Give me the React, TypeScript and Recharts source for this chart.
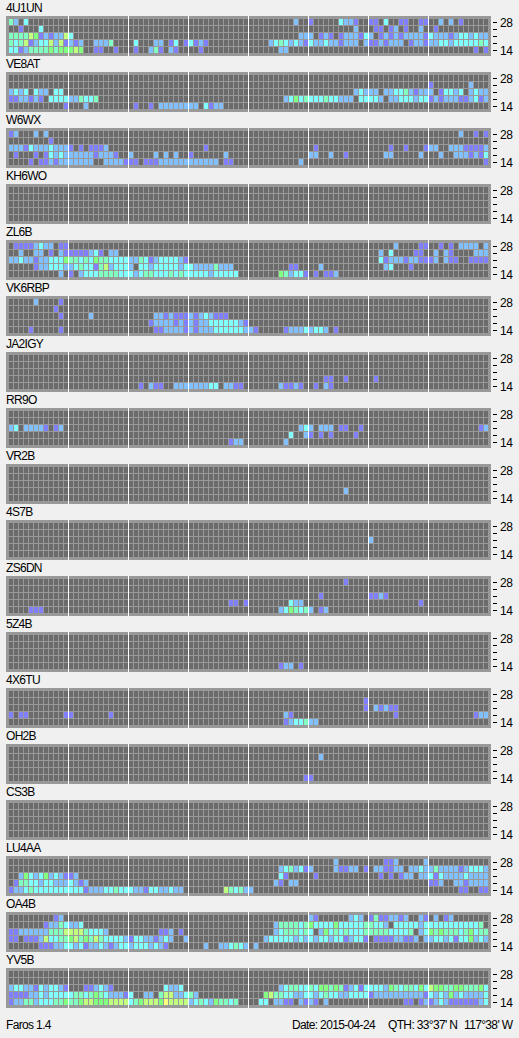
import {ReferenceLine, Scatter, ScatterChart, XAxis, YAxis} from 'recharts'

// each row is 96 quarter hours, written in 3 hour blocks. a block shorter than 12 is padded with '.'
const u4 = [
	'42.3 . . . .........2.. 1.....3221.. 11.3..11..11 ..2.2.1',
	'..1...3 . . . . .........2.. .11.12.1..2. .1',
	'444465121226 3 . . ..........22 2.121.122213 2.1212122221 322212332322',
	'434612336261 212..2224 .3...22.13.1 3121 ....23432321 3223221222.2 1121222.1221 223323333343',
	'331244445455 565..11..1 .1..241.21 ..1 ......22 . . .........1.1',
]
const ve8at = [
	'',
	'. . . . . . . 1.......2',
	'2323.322.33 . . . . .........232 22.223342122 2.13323.2322',
	'1122121.3333 224334 . . .......23534 333433222.33 332.22333233 121222112312',
	'...........1 ...2 .1..1.222222 22.3122',
]
const w6wx = [
	'12...2.2 . . . . . . ......2..1.1',
	'........1',
	'222132223222 1.1.1112 . ...1 . .1 ....1..1...1 22..22211112',
	'.1...1.13232 2222212221 2....2.2.2 1......2 . 22..2..1 ...22.....2 ..2..2221213',
	'....1.112122 22222..22221 11.111222222 222222.11 ..........2 . . ...........1',
]
const kh6wo = ['', '', '', '', '']
const zl6b = [
	'.11112322.11 . . . . . .....2....11 ..1.1.2222.2',
	'..2..22.1.21 1111231.22 . . . . ..2.3....11 .2.21....222',
	'223221223335 443435443333 224312333321 . . . ..3122212211 12.211..1111',
	'.....1223332 234331462333 2.3323333323 322224222 ........11 ..2 ...23...1 .',
	'..........2 1.2333444433 323443334343 3333233333 ......542331 .1.112',
]
const vk6rbp = [
	'.....2....1',
	'.........1',
	'..........1 ....2 .....2212111 21232111',
	'. . ....12222121 212233333321',
	'....1.....1 . .....1122221 212223333332 21.....12223 2332.1',
]
const ja2igy = [
	'',
	'',
	'',
	'. . . . . ...11..1 .1',
	'. . ..1.211..222 222233.2211 ......21121 .1.21',
]
const rr9o = [
	'',
	'',
	'23.22221.12 . . . ..........23 2.222.11..1 . ..........12',
	'. . . . ........3..2 1.1.1....1',
	'. . . ........122 .......2',
]
const vr2b = ['', '', '', '. . . . . .......2', '']
const s47b = ['', '', '. . . . . . 2', '', '']
const zs6dn = [
	'. . . . . .......1',
	'',
	'. . . . . ..1 1121',
	'. . . ........11.1 ........322 . ..........1',
	'....111 . . . ......235434 2.12',
]
const z54b = ['', '', '', '', '. . . . ......122.1']
const x46tu = [
	'',
	'. . . . . ...........1',
	'. . . . . ...........1 .21211',
	'1.11.......1 1.......1 . . .......21 . .....1 .........122',
	'. . . . .......12334 22',
]
const oh2b = [
	'',
	'. . . . . ..2',
	'',
	'',
	'. . . . ...........1 1',
]
const cs3b = ['', '', '', '', '']
const lu4aa = [
	'. . . . . .....2 ...112.....2',
	'. . . . ......234231 2....21122.1 .221122.2232 242222123332',
	'..2532352321 12 . . ......31 .1 ..1.1.122.22 313222232222',
	'.14433233222 3212 . . .....21.22 . . 112..2212222',
	'122343333333 333122233433 32213322322 .......64342 2 . . ......11..11',
]
const oa4b = [
	'.........12 . . . . 21......232 14112212..21 .2.12',
	'.......12243 223 . . .....2444434 533335333334 4332.3333323 33333333334',
	'112222224446 66643332 ......112.1 . .....2344434 3.2534343334 444433334.23 545444345344',
	'11.111263344 564546433332 133221232..2 . ...233333232 323323312331 .111122112.2 233231335232',
	'......111223 323122321233 23332321 ...2..223432 .2',
]
const yv5b = [
	'',
	'',
	'233221323321 ...112321 .......3223 . ......234433 435545412313 333254344353 655445544453',
	'111122323333 344345432221 3..22.466223 42 ...564433223 323433223333 122222222221 323252322223',
	'122442333445 445665556666 345666576666 2343254434 ..33.2211.21 21.2 .......11.12 123211111123',
]

const stations = ['4U1UN', 'VE8AT', 'W6WX', 'KH6WO', 'ZL6B', 'VK6RBP', 'JA2IGY', 'RR9O', 'VR2B', '4S7B', 'ZS6DN', '5Z4B', '4X6TU', 'OH2B', 'CS3B', 'LU4AA', 'OA4B', 'YV5B']
const grids = [u4, ve8at, w6wx, kh6wo, zl6b, vk6rbp, ja2igy, rr9o, vr2b, s47b, zs6dn, z54b, x46tu, oh2b, cs3b, lu4aa, oa4b, yv5b]

const bandTicks = [0.5, 1.5, 2.5, 3.5, 4.5]
const bandLabels = ['28', '', '', '', '14']
const blockLines = [12, 24, 36, 48, 60, 72, 84]
const levelColors = ['#6b6b6b', '#8080ff', '#80c0ff', '#80ffff', '#80ffc0', '#80ff80', '#c0ff80', '#ffff80']

const FONT = '"Liberation Sans", sans-serif'

// turn the block strings into one point for every cell
const toCells = (rows: string[]) => {
	const cells: {x: number; y: number; level: number}[] = []
	rows.forEach((row, r) => {
		const blocks = row.split(' ')
		for (let b = 0; b < 8; b++) {
			const text = (blocks[b] || '').padEnd(12, '.')
			for (let c = 0; c < 12; c++) {
				const level = text[c] === '.' ? 0 : Number(text[c])
				cells.push({x: b * 12 + c + 0.5, y: r + 0.5, level})
			}
		}
	})
	return cells
}

const CellMark = (props: any) => (
	<rect x={props.cx - 2} y={props.cy - 3.5} width={4} height={6} fill={levelColors[props.payload.level]} />
)

const BandTick = (props: any) => {
	const label = bandLabels[bandTicks.indexOf(props.payload.value)]
	return (
		<g>
			<rect x={493} y={Math.floor(props.y)} width={4} height={1} fill='#000' />
			<text x={500} y={props.y + 4.5} fontFamily={FONT} fontSize={12} letterSpacing={-0.5} fill='#000'>
				{label}
			</text>
		</g>
	)
}

const StationPanel = ({name, rows, index}: {name: string; rows: string[]; index: number}) => {
	const top = 16 + index * 56
	return (
		<>
			<div style={{position: 'absolute', left: 6, top: top - 16, fontFamily: FONT, fontSize: 12, lineHeight: '16px', letterSpacing: -0.7, color: '#000'}}>{name}</div>
			<div style={{position: 'absolute', left: 6, top, width: 485, height: 40, background: '#999999'}} />
			<div style={{position: 'absolute', left: 0, top}}>
				<ScatterChart width={519} height={46} margin={{top: 3, right: 0.5, bottom: 8, left: 8.5}}>
					<XAxis type='number' dataKey='x' domain={[0, 96]} hide />
					<YAxis
						type='number'
						dataKey='y'
						domain={[0, 5]}
						reversed
						orientation='right'
						width={30}
						ticks={bandTicks}
						interval={0}
						axisLine={false}
						tickLine={false}
						tick={<BandTick />}
					/>
					<Scatter data={toCells(rows)} shape={<CellMark />} isAnimationActive={false} />
					{blockLines.map((x) => (
						<ReferenceLine
							key={x}
							segment={[
								{x, y: -0.43},
								{x, y: 5.29},
							]}
							ifOverflow='visible'
							stroke='#ffffff'
							strokeWidth={1}
						/>
					))}
				</ScatterChart>
			</div>
		</>
	)
}

const footerStyle = {position: 'absolute' as const, top: 1017, fontFamily: FONT, fontSize: 12, lineHeight: '16px', letterSpacing: -0.65, color: '#000', whiteSpace: 'nowrap' as const}

const App = () => (
	<div style={{position: 'absolute', left: 0, top: 0, width: 519, height: 1038, background: '#f0f0f0', overflow: 'hidden'}}>
		{stations.map((name, i) => (
			<StationPanel key={name} name={name} rows={grids[i]} index={i} />
		))}
		<div style={{...footerStyle, left: 6}}>Faros 1.4</div>
		<div style={{...footerStyle, left: 292}}>Date: 2015-04-24</div>
		<div style={{...footerStyle, left: 388}}>QTH: 33°37' N</div>
		<div style={{...footerStyle, left: 464}}>117°38' W</div>
	</div>
)

export default App
